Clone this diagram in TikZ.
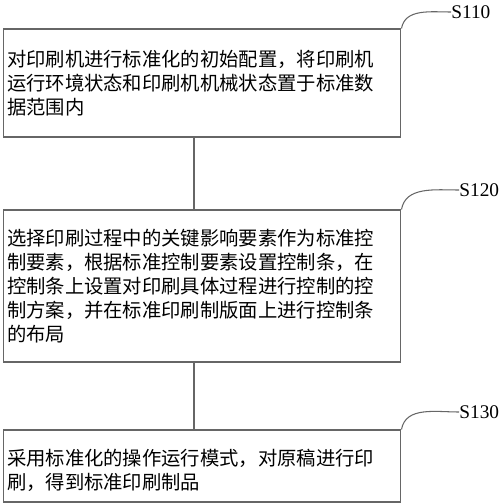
\documentclass[tikz,border=0pt]{standalone}
\usepackage{fontspec}
\setmainfont{Liberation Serif}
\newfontfamily\cjk{Noto Sans CJK SC}
\begin{document}
\begin{tikzpicture}[x=0.02cm, y=-0.02cm,
  stepbox/.style={draw=black!60, line width=0.6pt, minimum width=7.96cm, inner xsep=0.08cm, inner ysep=0pt,
    text width=7.8cm, align=left, font=\cjk\fontsize{11}{13.6}\selectfont},
  tag/.style={anchor=west, inner sep=0pt, font=\fontsize{11}{13}\selectfont},
  lead/.style={draw=black!60, line width=0.6pt}
]
  \useasboundingbox (0,0) rectangle (500,504);

  \node[stepbox, minimum height=2.16cm] (s110) at (202,83)
    {对印刷机进行标准化的初始配置，将印刷机\\运行环境状态和印刷机机械状态置于标准数\\据范围内};
  \node[stepbox, minimum height=3.04cm] (s120) at (202,286)
    {选择印刷过程中的关键影响要素作为标准控\\制要素，根据标准控制要素设置控制条，在\\控制条上设置对印刷具体过程进行控制的控\\制方案，并在标准印刷制版面上进行控制条\\的布局};
  \node[stepbox, minimum height=1.44cm, text depth=0.34cm] (s130) at (202,466)
    {采用标准化的操作运行模式，对原稿进行印\\刷，得到标准印刷制品};

  \node[tag] (l110) at (451,12) {S110};
  \node[tag] (l120) at (459,190) {S120};
  \node[tag] (l130) at (459,412) {S130};

  \draw[lead] ([xshift=-0.16cm]s110.south) -- ([xshift=-0.16cm]s120.north);
  \draw[lead] ([xshift=-0.16cm]s120.south) -- ([xshift=-0.16cm]s130.north);

  \draw[lead] (s110.north east) to[out=80, in=180] (l110.west);
  \draw[lead] (s120.north east) to[out=80, in=180] (l120.west);
  \draw[lead] (s130.north east) to[out=80, in=180] (l130.west);
\end{tikzpicture}
\end{document}
